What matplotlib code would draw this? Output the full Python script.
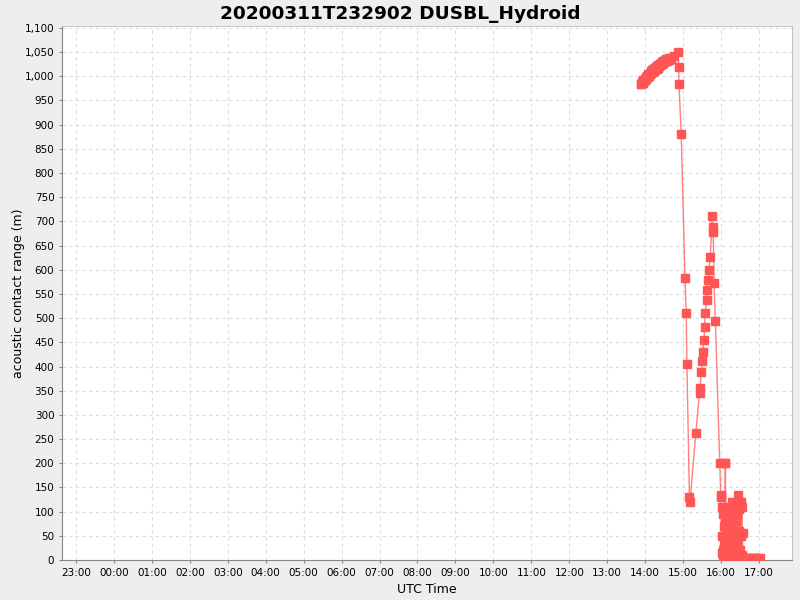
import matplotlib
matplotlib.use("Agg")
import matplotlib.pyplot as plt
from matplotlib.ticker import FuncFormatter, MultipleLocator

# time (UTC, HH:MM:SS) and acoustic contact range (m)
times = [
    "13:53:00", "13:54:00", "13:55:00", "13:56:00", "13:57:00", "13:58:00",
    "13:59:00", "14:00:00", "14:01:00", "14:02:00", "14:03:00", "14:04:00",
    "14:05:00", "14:06:00", "14:07:00", "14:08:00", "14:09:00", "14:10:00",
    "14:11:00", "14:12:00", "14:13:00", "14:14:00", "14:15:00", "14:16:00",
    "14:17:00", "14:18:00", "14:19:00", "14:20:00", "14:21:00", "14:22:00",
    "14:23:00", "14:24:00", "14:25:00", "14:26:00", "14:27:00", "14:28:00",
    "14:29:00", "14:30:00", "14:31:00", "14:32:00", "14:33:00", "14:34:00",
    "14:35:00", "14:36:00", "14:37:00", "14:38:00", "14:39:00", "14:40:00",
    "14:41:00", "14:46:00", "14:52:00", "14:53:00", "14:53:30", "14:57:00",
    "15:03:00", "15:05:00", "15:06:00", "15:10:00", "15:11:00", "15:20:00",
    "15:26:00", "15:27:00", "15:29:00", "15:30:00", "15:31:00", "15:33:00",
    "15:34:00", "15:35:00", "15:37:00", "15:38:00", "15:39:00", "15:41:00",
    "15:43:00", "15:46:00", "15:47:00", "15:47:30", "15:49:00", "15:51:00",
    "15:58:00", "15:59:30", "16:00:00",
    "16:01:00", "16:01:30", "16:02:00", "16:02:30", "16:03:00", "16:03:30",
    "16:04:00", "16:04:30", "16:05:00", "16:05:30", "16:06:00", "16:06:30",
    "16:07:00", "16:07:30", "16:08:00", "16:08:30", "16:09:00", "16:09:30",
    "16:10:00", "16:10:30", "16:11:00", "16:11:30", "16:12:00", "16:12:30",
    "16:13:00", "16:13:30", "16:14:00", "16:15:00", "16:15:30", "16:16:00",
    "16:16:30", "16:17:00", "16:17:30", "16:18:00", "16:19:00", "16:19:30",
    "16:20:00", "16:21:00", "16:21:30", "16:22:00", "16:23:00", "16:23:30",
    "16:24:00", "16:25:00", "16:25:30", "16:26:00", "16:27:00", "16:27:30",
    "16:28:00", "16:28:30", "16:29:00", "16:30:00", "16:30:30", "16:31:00",
    "16:32:00", "16:32:30", "16:33:00", "16:34:00", "16:34:30", "16:35:00",
    "16:37:00", "16:40:00", "16:43:00", "16:46:00", "16:49:00", "16:52:00",
    "16:55:00", "16:58:00", "17:01:00",
]
ranges = [
    985, 984, 989, 987, 992, 990,
    995, 992, 998, 995, 1001, 998,
    1004, 1001, 1007, 1004, 1010, 1006,
    1012, 1009, 1015, 1011, 1017, 1014,
    1020, 1016, 1022, 1018, 1024, 1021,
    1026, 1023, 1028, 1025, 1030, 1027,
    1032, 1029, 1033, 1031, 1035, 1032,
    1036, 1033, 1037, 1034, 1038, 1035,
    1036, 1042, 1050, 1019, 984, 881,
    583, 510, 405, 130, 120, 262,
    345, 355, 389, 411, 430, 455,
    482, 511, 538, 558, 579, 600,
    627, 711, 689, 678, 573, 494,
    200, 135, 130,
    15, 50, 110, 20, 95, 5,
    70, 105, 30, 85, 10, 200,
    200, 40, 110, 5, 90, 60,
    100, 15, 75, 110, 35, 95,
    5, 80, 45, 110, 20, 100,
    60, 120, 10, 70, 105, 25,
    90, 5, 115, 55, 100, 15,
    80, 110, 40, 95, 5, 135,
    120, 60, 105, 20, 115, 50,
    120, 10, 110, 55, 5, 5,
    5, 5, 5, 5, 5, 5,
    5, 5, 5,
]

# hour ticks from 23:00 (previous day) to 17:00
tick_hours = list(range(-1, 18))


def to_hours(t):
    h, m, s = [int(v) for v in t.split(":")]
    return h + m / 60 + s / 3600


x = [to_hours(t) for t in times]

fig = plt.figure(figsize=(8, 6), dpi=100, facecolor="#eeeeee")
ax = fig.add_axes([0.0775, 0.0667, 0.9125, 0.89])
ax.set_facecolor("white")

ax.plot(x, ranges, color="#ff5555", lw=1, alpha=0.75, zorder=2)
ax.plot(x, ranges, ls="none", marker="s", ms=5.3, color="#ff5555", zorder=3)

ax.set_xlim(-1.369, 17.87)
ax.set_ylim(0, 1104)
ax.set_xticks(tick_hours)
ax.xaxis.set_major_formatter(FuncFormatter(lambda v, p: "%02d:00" % (int(round(v)) % 24)))
ax.yaxis.set_major_locator(MultipleLocator(50))
ax.yaxis.set_major_formatter(FuncFormatter(lambda v, p: "{:,}".format(int(v))))

ax.grid(True, color="#dddddd", ls=(0, (3, 3)), lw=0.8)
ax.set_axisbelow(True)
for side in ["left", "bottom"]:
    ax.spines[side].set_color("#888888")
for side in ["top", "right"]:
    ax.spines[side].set_color("#bbbbbb")
    ax.spines[side].set_linewidth(0.6)
ax.tick_params(labelsize=7.5, colors="#888888", labelcolor="black", length=2)

ax.set_xlabel("UTC Time", fontsize=9)
ax.set_ylabel("acoustic contact range (m)", fontsize=9, labelpad=-0.5)
fig.suptitle("20200311T232902 DUSBL_Hydroid", fontsize=13.3, fontweight="bold", x=0.5, y=0.992)

fig.savefig("out.png", dpi=100, facecolor=fig.get_facecolor())
